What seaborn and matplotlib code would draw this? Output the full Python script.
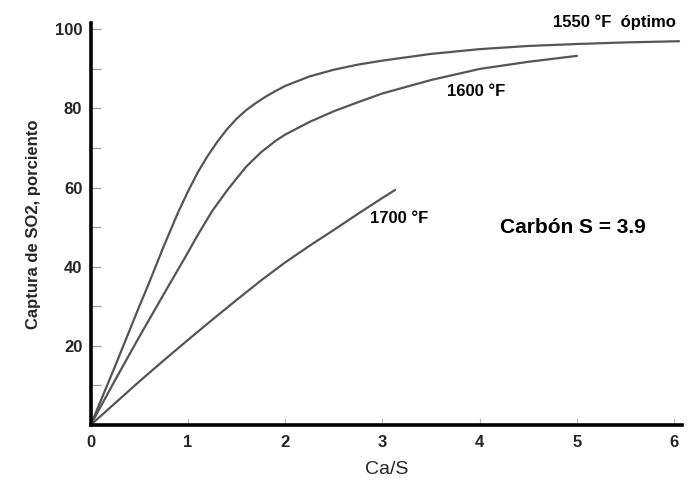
import numpy as np
import pandas as pd
import matplotlib
matplotlib.use("Agg")
import matplotlib.pyplot as plt
import seaborn as sns
from matplotlib.ticker import MultipleLocator

# ---- data ----
x_1550 = [0, 0.25, 0.5, 0.6, 0.75, 0.9, 1.0, 1.1, 1.2, 1.3, 1.4, 1.5, 1.6, 1.7, 1.8, 1.9, 2.0,
          2.25, 2.5, 2.75, 3.0, 3.5, 4.0, 4.5, 5.0, 5.5, 6.05]
y_1550 = [0, 14.8, 30.0, 35.9, 45.1, 53.8, 59.0, 63.8, 67.9, 71.5, 74.7, 77.4, 79.6, 81.4, 83.0, 84.4, 85.7,
          88.1, 89.8, 91.1, 92.1, 93.8, 95.0, 95.8, 96.3, 96.7, 97.0]

x_1600 = [0, 0.25, 0.5, 0.75, 1.0, 1.1, 1.25, 1.4, 1.5, 1.6, 1.75, 1.9, 2.0, 2.25, 2.5, 2.75,
          3.0, 3.5, 4.0, 4.5, 5.0]
y_1600 = [0, 11.3, 22.3, 33.0, 43.6, 48.0, 54.1, 59.2, 62.3, 65.3, 68.9, 71.8, 73.4, 76.6, 79.3, 81.6,
          83.8, 87.2, 90.0, 91.8, 93.3]

x_1700 = [0, 0.25, 0.5, 0.75, 1.0, 1.25, 1.5, 1.75, 2.0, 2.25, 2.5, 2.75, 3.0, 3.13]
y_1700 = [0, 5.5, 11.0, 16.3, 21.5, 26.6, 31.6, 36.5, 41.1, 45.3, 49.3, 53.4, 57.4, 59.4]

series_labels = ["1550 °F  óptimo", "1600 °F", "1700 °F"]
x_ticks = [0, 1, 2, 3, 4, 5, 6]
y_ticks = [20, 40, 60, 80, 100]

df = pd.concat([
    pd.DataFrame({"Ca/S": x_1550, "captura": y_1550, "serie": series_labels[0]}),
    pd.DataFrame({"Ca/S": x_1600, "captura": y_1600, "serie": series_labels[1]}),
    pd.DataFrame({"Ca/S": x_1700, "captura": y_1700, "serie": series_labels[2]}),
], ignore_index=True)

sns.set_style("white")
plt.rcParams["font.family"] = ["Liberation Sans", "DejaVu Sans"]

fig = plt.figure(figsize=(6.9, 4.86), dpi=100)
ax = fig.add_axes([0.1314, 0.1255, 0.857, 0.8263])

line_color = "#555555"
sns.lineplot(data=df, x="Ca/S", y="captura", hue="serie",
             palette=[line_color] * 3, estimator=None, sort=False,
             legend=False, linewidth=1.6, ax=ax)

ax.set_xlim(0, 6.08)
ax.set_ylim(0, 101.5)

for s in ["top", "right"]:
    ax.spines[s].set_visible(False)
for s in ["left", "bottom"]:
    ax.spines[s].set_linewidth(2.6)
    ax.spines[s].set_color("black")

ax.set_xticks(x_ticks)
ax.set_xticklabels([str(t) for t in x_ticks], fontweight="bold", fontsize=12)
ax.set_yticks(y_ticks)
ax.set_yticklabels([str(t) for t in y_ticks], fontweight="bold", fontsize=12)
ax.yaxis.set_minor_locator(MultipleLocator(10))
ax.tick_params(axis="y", which="both", direction="in", length=7, width=0.9,
               color="#999999", left=True, pad=6)
ax.tick_params(axis="x", which="major", direction="in", length=5, width=0.8,
               color="#bbbbbb", bottom=True, pad=7)

ax.set_xlabel("Ca/S", fontsize=14, labelpad=8)
ax.set_ylabel("Captura de SO2, porciento", fontsize=12, fontweight="bold", labelpad=10)

txt_kw = dict(fontweight="bold", fontsize=12, color="black", va="center", ha="left", clip_on=False)
ax.text(4.75, 101.8, series_labels[0], **txt_kw)
ax.text(3.66, 84.2, series_labels[1], **txt_kw)
ax.text(2.87, 52.1, series_labels[2], **txt_kw)
ax.text(4.21, 50.0, "Carbón S = 3.9", fontweight="bold", fontsize=15, color="black",
        va="center", ha="left")

fig.savefig("out.png", dpi=100)
